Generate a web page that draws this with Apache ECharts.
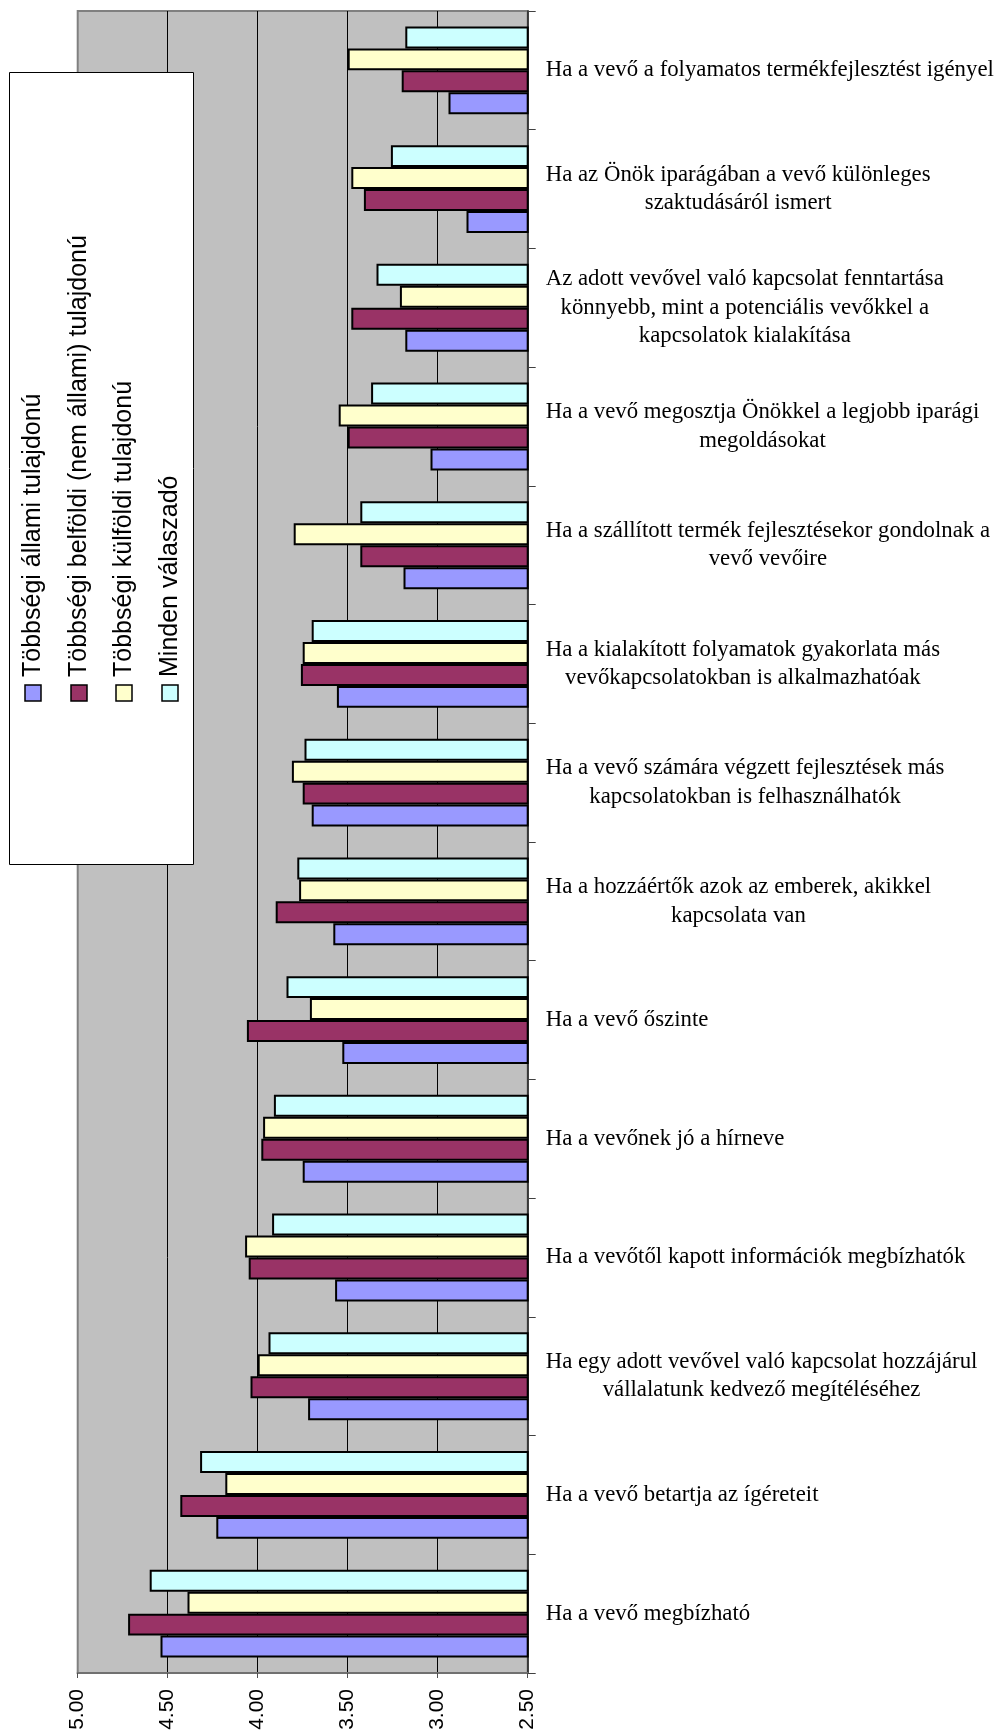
<!DOCTYPE html>
<html>
<head>
<meta charset="utf-8">
<script src="https://cdn.jsdelivr.net/npm/echarts@6/dist/echarts.min.js"></script>
<style>
  html, body { margin: 0; padding: 0; background: #ffffff; }
  #chart { width: 997px; height: 1736px; }
</style>
</head>
<body>
<div id="chart"></div>
<script>
// Statements, listed top to bottom as they are read
const categories = [
  'Ha a vevő a folyamatos termékfejlesztést igényel',
  'Ha az Önök iparágában a vevő különleges\nszaktudásáról ismert',
  'Az adott vevővel való kapcsolat fenntartása\nkönnyebb, mint a potenciális vevőkkel a\nkapcsolatok kialakítása',
  'Ha a vevő megosztja Önökkel a legjobb iparági\nmegoldásokat',
  'Ha a szállított termék fejlesztésekor gondolnak a\nvevő vevőire',
  'Ha a kialakított folyamatok gyakorlata más\nvevőkapcsolatokban is alkalmazhatóak',
  'Ha a vevő számára végzett fejlesztések más\nkapcsolatokban is felhasználhatók',
  'Ha a hozzáértők azok az emberek, akikkel\nkapcsolata van',
  'Ha a vevő őszinte',
  'Ha a vevőnek jó a hírneve',
  'Ha a vevőtől kapott információk megbízhatók',
  'Ha egy adott vevővel való kapcsolat hozzájárul\nvállalatunk kedvező megítéléséhez',
  'Ha a vevő betartja az ígéreteit',
  'Ha a vevő megbízható'
];

const seriesNames = [
  'Többségi állami tulajdonú',
  'Többségi belföldi (nem állami) tulajdonú',
  'Többségi külföldi tulajdonú',
  'Minden válaszadó'
];

// Mean scores, same order as categories
const allami   = [2.94, 2.84, 3.18, 3.04, 3.19, 3.56, 3.70, 3.58, 3.53, 3.75, 3.57, 3.72, 4.23, 4.54];
const belfoldi = [3.20, 3.41, 3.48, 3.50, 3.43, 3.76, 3.75, 3.90, 4.06, 3.98, 4.05, 4.04, 4.43, 4.72];
const kulfoldi = [3.50, 3.48, 3.21, 3.55, 3.80, 3.75, 3.81, 3.77, 3.71, 3.97, 4.07, 4.00, 4.18, 4.39];
const minden   = [3.18, 3.26, 3.34, 3.37, 3.43, 3.70, 3.74, 3.78, 3.84, 3.91, 3.92, 3.94, 4.32, 4.60];

const valueTicks = [2.5, 3.0, 3.5, 4.0, 4.5, 5.0];

const colors = ['#9999FF', '#993366', '#FFFFCC', '#CCFFFF'];
const seriesData = [allami, belfoldi, kulfoldi, minden];

// category axis runs bottom-up, so feed it reversed lists
const axisCats = categories.slice().reverse();

const chart = echarts.init(document.getElementById('chart'), null, { renderer: 'canvas' });

// within a group the first declared series sits on top, so declare them last-to-first
const series = [3, 2, 1, 0].map(i => ({
  name: seriesNames[i],
  type: 'bar',
  data: seriesData[i].slice().reverse(),
  barGap: '0%',
  barCategoryGap: '26%',
  clip: true,
  itemStyle: { color: colors[i], borderColor: '#000000', borderWidth: 2 },
  emphasis: { disabled: true },
  animation: false
}));

// Legend drawn as a rotated block on the left
const legendCenters = [33, 79, 124, 170];
const legendChildren = [{
  type: 'rect',
  shape: { x: 9.5, y: 72.5, width: 184, height: 792 },
  style: { fill: '#ffffff', stroke: '#000000', lineWidth: 1 },
  z: 10
}];
seriesNames.forEach((name, i) => {
  legendChildren.push({
    type: 'rect',
    shape: { x: legendCenters[i] - 8, y: 685, width: 16, height: 16 },
    style: { fill: colors[i], stroke: '#000000', lineWidth: 1.5 },
    z: 11
  });
  legendChildren.push({
    type: 'text',
    x: legendCenters[i],
    y: 677,
    rotation: Math.PI / 2,
    style: {
      text: name,
      fontFamily: '"Liberation Sans", Arial, sans-serif',
      fontSize: 25,
      fill: '#000000',
      align: 'left',
      verticalAlign: 'middle'
    },
    z: 11
  });
});

chart.setOption({
  animation: false,
  backgroundColor: '#ffffff',
  grid: {
    left: 77.7, right: 469.3, top: 11, bottom: 63,
    show: true,
    backgroundColor: '#C0C0C0',
    borderColor: '#808080',
    borderWidth: 2
  },
  xAxis: {
    type: 'value',
    inverse: true,
    min: valueTicks[0],
    max: valueTicks[valueTicks.length - 1],
    interval: 0.5,
    position: 'bottom',
    axisLine: { show: true, lineStyle: { color: '#707070', width: 2 } },
    axisTick: { show: true, length: 5, lineStyle: { color: '#505050', width: 1 } },
    axisLabel: {
      rotate: 90,
      margin: 16,
      fontFamily: '"Liberation Sans", Arial, sans-serif',
      fontSize: 21,
      color: '#000000',
      formatter: v => v.toFixed(2)
    },
    splitLine: { show: true, showMinLine: false, showMaxLine: false, lineStyle: { color: '#000000', width: 1 } }
  },
  yAxis: {
    type: 'category',
    position: 'right',
    data: axisCats,
    axisLine: { show: true, lineStyle: { color: '#202020', width: 1.5 } },
    axisTick: { show: true, length: 8, lineStyle: { color: '#404040', width: 1 } },
    axisLabel: {
      interval: 0,
      margin: 18,
      formatter: v => v.split('\n').map(s => '{c|' + s + '}').join('\n'),
      rich: {
        c: {
          align: 'center',
          fontFamily: '"Liberation Serif", "Times New Roman", serif',
          fontSize: 22.8,
          lineHeight: 28.5,
          color: '#000000'
        }
      }
    },
    splitLine: { show: false }
  },
  series: series,
  graphic: [{ type: 'group', children: legendChildren }]
});
</script>
</body>
</html>
